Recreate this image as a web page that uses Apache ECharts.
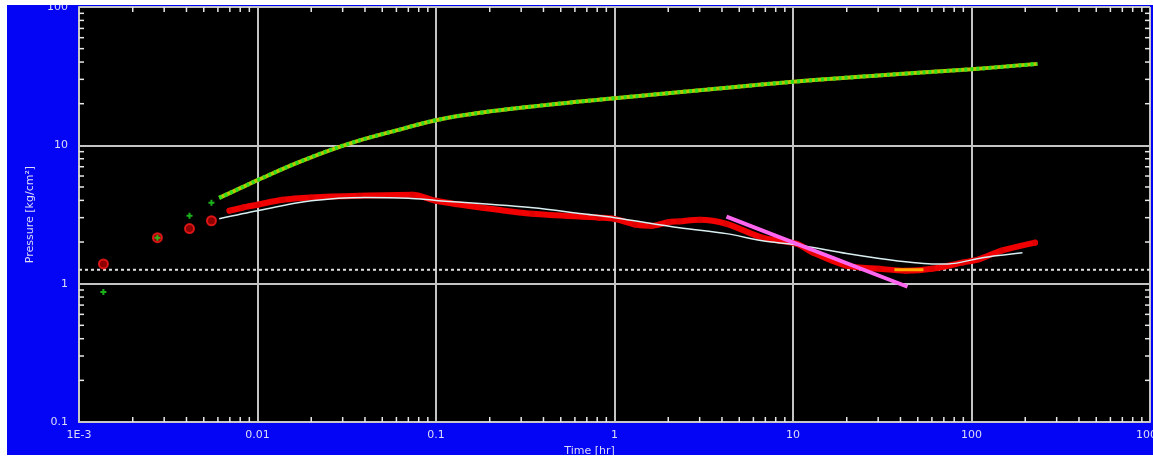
<!DOCTYPE html>
<html>
<head>
<meta charset="utf-8">
<script src="https://cdn.jsdelivr.net/npm/echarts@6/dist/echarts.min.js"></script>
<style>
  html, body { margin: 0; padding: 0; background: #ffffff; }
  #wrap { position: relative; width: 1153px; height: 457px; overflow: hidden; background: #ffffff; }
  #chart { position: absolute; left: 7px; top: 0; width: 1146px; height: 455px; }
  #topStrip { position: absolute; left: 0; top: 0; width: 1153px; height: 5px; background: #ffffff; z-index: 5; }
</style>
</head>
<body>
<div id="wrap">
  <div id="chart"></div>
  <div id="topStrip"></div>
</div>
<script>
// ---- Tick labels ----
const xTickLabels = ['1E-3', '0.01', '0.1', '1', '10', '100', '1000'];
const yTickLabels = ['0.1', '1', '10', '100'];

// ---- Early, separate points ----
const earlyGreenT = [0.00137, 0.00275, 0.00416, 0.00552];
const earlyGreenP = [0.87, 2.15, 3.1, 3.84];
const earlyRedT   = [0.00137, 0.00275, 0.00416, 0.00552];
const earlyRedP   = [1.39, 2.15, 2.5, 2.85];

// ---- Pressure change (green) ----
const greenT = [0.0061, 0.008, 0.01, 0.0172, 0.0327, 0.0625, 0.1, 0.182, 0.347, 0.662, 1, 3, 10, 30, 100, 234];
const greenP = [4.17, 4.9, 5.6, 7.6, 10.3, 13.0, 15.2, 17.3, 19.1, 20.8, 21.9, 25.0, 28.8, 32.0, 35.5, 38.8];

// ---- Derivative (red) ----
const redT = [0.00697, 0.0082, 0.01, 0.0138, 0.02, 0.0372, 0.0738, 0.1, 0.182, 0.347, 0.82, 1.0, 1.3, 1.6, 2.0, 2.31, 3.0, 4.24, 6.74, 10.5, 12.9, 19.9, 30.5, 43, 60, 89, 110, 147, 227];
const redP = [3.37, 3.54, 3.72, 4.04, 4.2, 4.32, 4.39, 3.98, 3.54, 3.2, 3.0, 2.94, 2.68, 2.62, 2.78, 2.82, 2.9, 2.71, 2.15, 1.94, 1.68, 1.35, 1.28, 1.24, 1.28, 1.42, 1.5, 1.73, 1.98];

// ---- Model derivative (white) ----
const modelT = [0.0061, 0.01, 0.02, 0.04, 0.07, 0.1, 0.35, 0.66, 1, 2.31, 4.24, 6.74, 10.5, 20, 30.5, 46.7, 60, 74, 115, 193];
const modelP = [2.95, 3.37, 3.97, 4.2, 4.15, 4.0, 3.54, 3.2, 3.0, 2.54, 2.3, 2.04, 1.91, 1.65, 1.52, 1.42, 1.39, 1.39, 1.54, 1.67];

// ---- Straight-line fits ----
const magentaT = [4.24, 43.8];
const magentaP = [3.05, 0.95];
const orangeT = [37, 53.8];
const orangeP = [1.26, 1.26];
const dashLevel = 1.26;

const zip = (a, b) => a.map((v, i) => [v, b[i]]);

// minor tick positions (2..9 per decade)
const minorTicks = [];
for (let d = -3; d < 3; d++) for (let k = 2; k <= 9; k++) minorTicks.push([k * Math.pow(10, d), 1, 0]);
for (let d = -1; d < 2; d++) for (let k = 2; k <= 9; k++) minorTicks.push([1, k * Math.pow(10, d), 1]);

const labelColor = '#dcdcf6';
const chart = echarts.init(document.getElementById('chart'));
const tickStyle = { stroke: '#e8e8e8', lineWidth: 1.5 };

chart.setOption({
  backgroundColor: '#0505f5',
  animation: false,
  grid: { left: 72, right: 3, top: 7, bottom: 33, show: true, backgroundColor: '#000000', borderWidth: 0,
          containLabel: false, outerBoundsMode: 'none' },
  xAxis: {
    type: 'log', logBase: 10, min: 0.001, max: 1000,
    name: 'Time [hr]', nameLocation: 'middle', nameGap: 21,
    nameTextStyle: { color: labelColor, fontFamily: 'DejaVu Sans', fontSize: 11, padding: [0, 50, 0, 0] },
    axisLine: { show: true, lineStyle: { color: '#c8c8c8', width: 2 } },
    axisTick: { show: false },
    axisLabel: { color: labelColor, fontFamily: 'DejaVu Sans', fontSize: 11, margin: 8, showMinLabel: true, showMaxLabel: true,
      formatter: v => xTickLabels[Math.round(Math.log10(v)) + 3] },
    splitLine: { show: true, lineStyle: { color: '#c4c4c4', width: 2 } }
  },
  yAxis: {
    type: 'log', logBase: 10, min: 0.1, max: 100,
    name: 'Pressure [kg/cm²]', nameLocation: 'middle', nameGap: 40,
    nameTextStyle: { color: labelColor, fontFamily: 'DejaVu Sans', fontSize: 11 },
    axisLine: { show: true, lineStyle: { color: '#c8c8c8', width: 2 } },
    axisTick: { show: false },
    axisLabel: { color: labelColor, fontFamily: 'DejaVu Sans', fontSize: 11, margin: 11, showMinLabel: true, showMaxLabel: true,
      formatter: v => yTickLabels[Math.round(Math.log10(v)) + 1] },
    splitLine: { show: true, lineStyle: { color: '#c4c4c4', width: 2 } }
  },
  series: [
    {
      type: 'custom', silent: true, z: 1, clip: false,
      encode: { x: 0, y: 1 },
      data: minorTicks,
      renderItem: (params, api) => {
        const cs = params.coordSys;
        if (api.value(2) === 0) {
          const p = api.coord([api.value(0), 1])[0];
          return { type: 'group', children: [
            { type: 'line', shape: { x1: p, y1: cs.y + cs.height, x2: p, y2: cs.y + cs.height - 5 }, style: tickStyle },
            { type: 'line', shape: { x1: p, y1: cs.y, x2: p, y2: cs.y + 5 }, style: tickStyle }
          ]};
        }
        const q = api.coord([1, api.value(1)])[1];
        return { type: 'group', children: [
          { type: 'line', shape: { x1: cs.x, y1: q, x2: cs.x + 5, y2: q }, style: tickStyle },
          { type: 'line', shape: { x1: cs.x + cs.width, y1: q, x2: cs.x + cs.width - 5, y2: q }, style: tickStyle }
        ]};
      }
    },
    {
      type: 'line', z: 3, data: [[0.001, dashLevel], [1000, dashLevel]], symbol: 'none', silent: true,
      lineStyle: { color: '#e0e0e0', width: 2, type: [3, 3] }
    },
    {
      type: 'line', z: 4, data: zip(greenT, greenP), symbol: 'none', smooth: 0.4,
      lineStyle: { color: '#bcc400', width: 4 }
    },
    {
      type: 'line', z: 5, data: zip(greenT, greenP), symbol: 'none', smooth: 0.4,
      lineStyle: { color: '#2ee01e', width: 4, type: [3, 3] }
    },
    {
      type: 'line', z: 5, data: zip(redT, redP), smooth: 0.3,
      symbol: 'circle', symbolSize: 6, itemStyle: { color: '#e00000' },
      lineStyle: { color: '#f00000', width: 6, cap: 'round' }
    },
    {
      type: 'scatter', z: 6, data: zip(earlyRedT, earlyRedP), symbol: 'circle', symbolSize: 9,
      itemStyle: { color: '#b00000', borderColor: '#ff1a1a', borderWidth: 2 }
    },
    {
      type: 'scatter', z: 7, data: zip(earlyGreenT, earlyGreenP),
      symbol: 'path://M2,0H4V2H6V4H4V6H2V4H0V2H2Z', symbolSize: 6,
      itemStyle: { color: '#22dd22' }
    },
    {
      type: 'line', z: 8, data: zip(modelT, modelP), symbol: 'none', smooth: 0.3,
      lineStyle: { color: '#d8eef0', width: 1.5 }
    },
    {
      type: 'line', z: 9, data: zip(magentaT, magentaP), symbol: 'none',
      lineStyle: { color: '#ff66f0', width: 4 }
    },
    {
      type: 'line', z: 9, data: zip(orangeT, orangeP), symbol: 'none',
      lineStyle: { color: '#ffaa00', width: 3 }
    }
  ]
});
</script>
</body>
</html>
